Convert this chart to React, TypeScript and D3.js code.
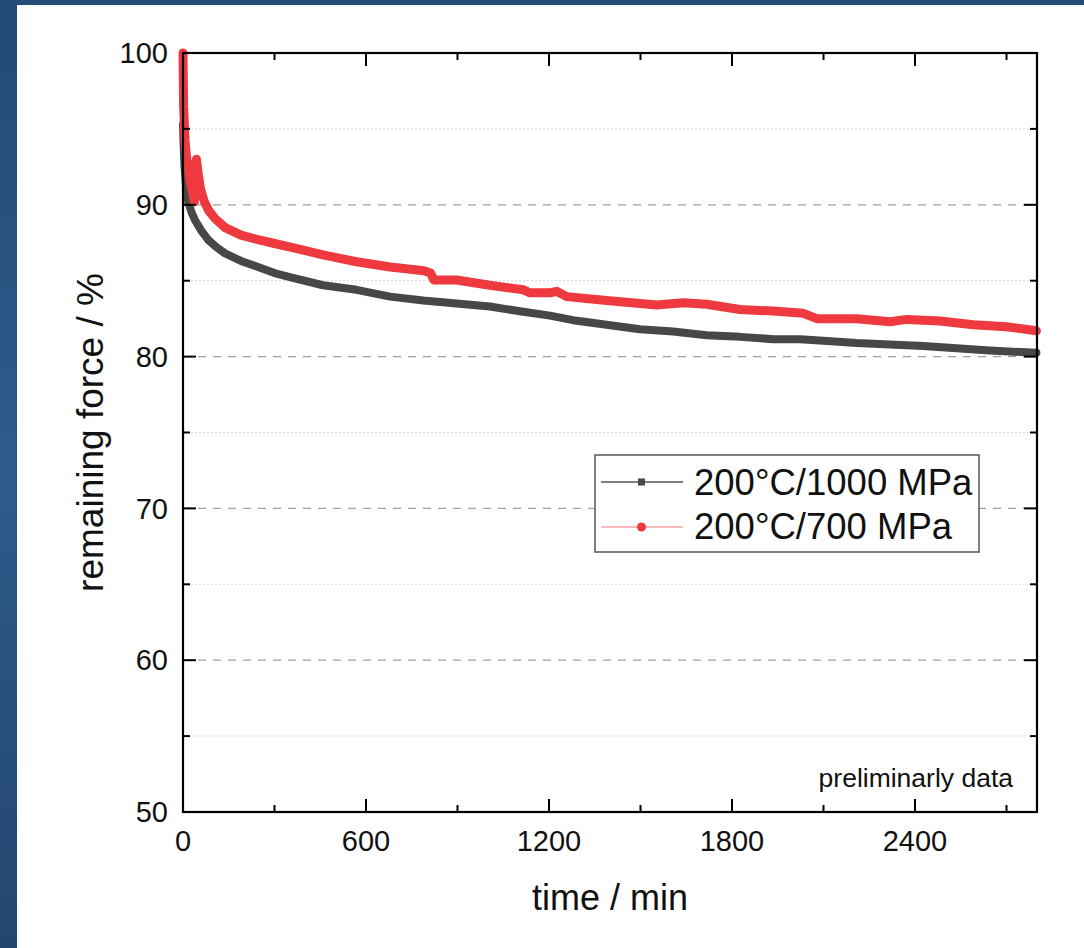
import React from 'react';
import * as d3 from 'd3';

// 200°C / 1000 MPa (dark grey)
const timeHigh = [0, 2, 5, 10, 17, 28, 39, 60, 82, 110, 138, 190, 246, 300, 357, 459, 569, 679, 788, 897, 1006, 1116, 1203, 1279, 1389, 1498, 1607, 1717, 1826, 1935, 2023, 2100, 2209, 2318, 2427, 2536, 2645, 2798];
const forceHigh = [95.3, 94.0, 92.5, 91.2, 90.2, 89.5, 89.0, 88.3, 87.7, 87.2, 86.8, 86.3, 85.9, 85.5, 85.2, 84.7, 84.4, 83.95, 83.7, 83.5, 83.3, 82.95, 82.7, 82.4, 82.1, 81.8, 81.65, 81.4, 81.3, 81.15, 81.15, 81.05, 80.9, 80.8, 80.7, 80.55, 80.4, 80.25];

// 200°C / 700 MPa (red)
const timeLow = [0, 2, 6.5, 12, 23, 32, 37, 40, 44, 50, 58, 70, 85, 105, 138, 190, 246, 300, 356, 459, 569, 679, 790, 812, 822, 897, 1006, 1116, 1138, 1203, 1225, 1258, 1389, 1553, 1640, 1717, 1826, 1935, 2034, 2078, 2209, 2318, 2373, 2482, 2591, 2700, 2798];
const forceLow = [100, 96.5, 94.3, 93.0, 91.6, 90.8, 90.2, 92.5, 93.0, 92.0, 91.0, 90.2, 89.6, 89.1, 88.5, 88.0, 87.7, 87.45, 87.2, 86.7, 86.25, 85.9, 85.65, 85.5, 85.05, 85.05, 84.7, 84.4, 84.2, 84.2, 84.3, 83.95, 83.7, 83.4, 83.55, 83.45, 83.1, 83.0, 82.85, 82.5, 82.5, 82.3, 82.45, 82.35, 82.1, 81.97, 81.7];

const xMajor = [0, 600, 1200, 1800, 2400];
const xMinor = [300, 900, 1500, 2100, 2700];
const yMajor = [50, 60, 70, 80, 90, 100];
const yMinor = [55, 65, 75, 85, 95];
const seriesNames = ['200°C/1000 MPa', '200°C/700 MPa'];

const W = 1084;
const H = 948;
const m = { left: 183, right: 1037, top: 53, bottom: 812 };
const FONT = 'Liberation Sans, Arial, sans-serif';

const App = () => {
  const x = d3.scaleLinear().domain([0, 2800]).range([m.left, m.right]);
  const y = d3.scaleLinear().domain([50, 100]).range([m.bottom, m.top]);

  const line = d3.line<[number, number]>()
    .x(d => x(d[0]))
    .y(d => y(d[1]));

  const highPts = timeHigh.map((t, i) => [t, forceHigh[i]] as [number, number]);
  const lowPts = timeLow.map((t, i) => [t, forceLow[i]] as [number, number]);

  const majTick = 13;
  const minTick = 7;

  return (
    <svg width={W} height={H} style={{ position: 'absolute', left: 0, top: 0 }} fontFamily={FONT}>
      <defs>
        <linearGradient id="bg" x1="0" y1="0" x2="0" y2="1">
          <stop offset="0" stopColor="#244a77" />
          <stop offset="0.5" stopColor="#2e5a8a" />
          <stop offset="1" stopColor="#23466f" />
        </linearGradient>
      </defs>
      <rect width={W} height={H} fill="url(#bg)" />
      <rect x={17} y={5} width={W - 17} height={H - 5} fill="#fff" />

      {/* grid */}
      {yMinor.map(v => (
        <line key={'gm' + v} x1={m.left} x2={m.right} y1={y(v)} y2={y(v)}
          stroke="#d8d8d8" strokeWidth={1} strokeDasharray="2,2" />
      ))}
      {yMajor.filter(v => v > 50 && v < 100).map(v => (
        <line key={'gM' + v} x1={m.left} x2={m.right} y1={y(v)} y2={y(v)}
          stroke="#a0a0a0" strokeWidth={1.3} strokeDasharray="8,7" />
      ))}

      {/* data */}
      <path d={line(highPts) || ''} fill="none" stroke="#474747" strokeWidth={8}
        strokeLinejoin="round" strokeLinecap="round" />
      <path d={line(lowPts) || ''} fill="none" stroke="#ee3a3e" strokeWidth={9}
        strokeLinejoin="round" strokeLinecap="round" />

      {/* frame */}
      <rect x={m.left} y={m.top} width={m.right - m.left} height={m.bottom - m.top}
        fill="none" stroke="#000" strokeWidth={2.2} />

      {/* x ticks, bottom and top, inward */}
      {xMajor.map(v => (
        <g key={'xM' + v}>
          <line x1={x(v)} x2={x(v)} y1={m.bottom} y2={m.bottom - majTick} stroke="#000" strokeWidth={2} />
          <line x1={x(v)} x2={x(v)} y1={m.top} y2={m.top + majTick} stroke="#000" strokeWidth={2} />
          <text x={x(v)} y={851} textAnchor="middle" fontSize={29} fill="#111">{v}</text>
        </g>
      ))}
      {xMinor.map(v => (
        <g key={'xm' + v}>
          <line x1={x(v)} x2={x(v)} y1={m.bottom} y2={m.bottom - minTick} stroke="#000" strokeWidth={2} />
          <line x1={x(v)} x2={x(v)} y1={m.top} y2={m.top + minTick} stroke="#000" strokeWidth={2} />
        </g>
      ))}

      {/* y ticks, left and right, inward */}
      {yMajor.map(v => (
        <g key={'yM' + v}>
          <line x1={m.left} x2={m.left + majTick} y1={y(v)} y2={y(v)} stroke="#000" strokeWidth={2} />
          <line x1={m.right} x2={m.right - majTick} y1={y(v)} y2={y(v)} stroke="#000" strokeWidth={2} />
          <text x={168} y={y(v)} dy="0.35em" textAnchor="end" fontSize={29} fill="#111">{v}</text>
        </g>
      ))}
      {yMinor.map(v => (
        <g key={'ym' + v}>
          <line x1={m.left} x2={m.left + minTick} y1={y(v)} y2={y(v)} stroke="#000" strokeWidth={2} />
          <line x1={m.right} x2={m.right - minTick} y1={y(v)} y2={y(v)} stroke="#000" strokeWidth={2} />
        </g>
      ))}

      {/* axis titles */}
      <text x={(m.left + m.right) / 2} y={910} textAnchor="middle" fontSize={36} fill="#111">time / min</text>
      <text transform={`translate(103,${(m.top + m.bottom) / 2}) rotate(-90)`} textAnchor="middle"
        fontSize={37} fill="#111">remaining force / %</text>

      {/* legend */}
      <rect x={595} y={455} width={384} height={97} fill="#fff" stroke="#555" strokeWidth={1.5} />
      <line x1={601} x2={683} y1={482} y2={482} stroke="#555" strokeWidth={1.5} />
      <rect x={638} y={478.5} width={7} height={7} fill="#474747" />
      <text x={694} y={495} fontSize={36.5} fill="#111">{seriesNames[0]}</text>
      <line x1={601} x2={683} y1={527} y2={527} stroke="#f4a3a5" strokeWidth={1.5} />
      <circle cx={641.5} cy={527} r={4.5} fill="#ee3a3e" />
      <text x={694} y={539} fontSize={36.5} fill="#111">{seriesNames[1]}</text>

      <text x={1013} y={787} textAnchor="end" fontSize={26.5} fill="#111">preliminarly data</text>
    </svg>
  );
};

export default App;
